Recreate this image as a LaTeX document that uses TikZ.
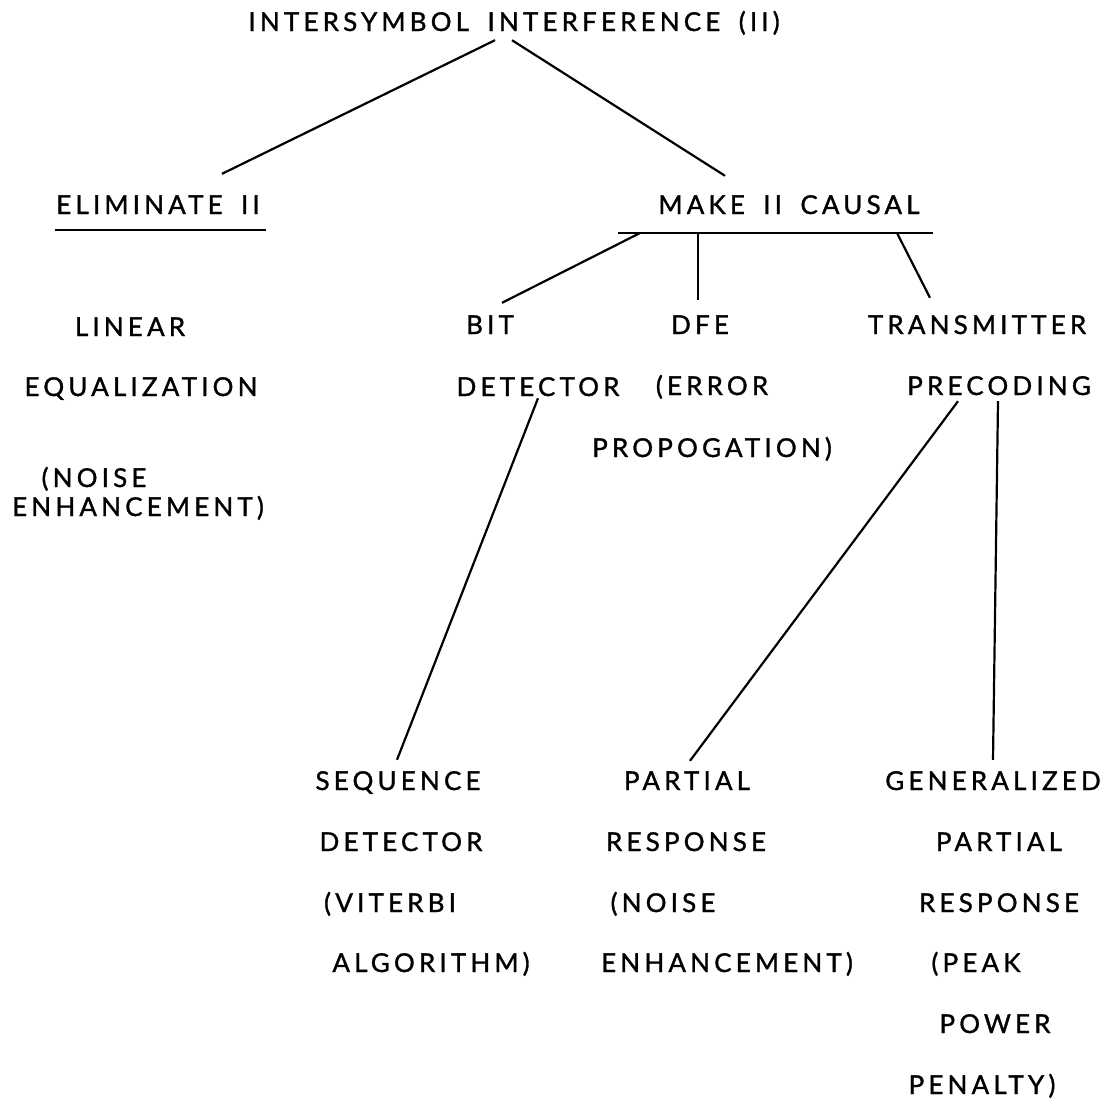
\documentclass[tikz,border=0pt]{standalone}
\usepackage{fontspec}
\newfontfamily\treefont{Lato}[LetterSpace=16,WordSpace=1.7,FakeBold=1.2]
\usetikzlibrary{positioning}

\begin{document}
\begin{tikzpicture}[
  x=1pt, y=-1pt,
  term/.style={
    anchor=base,
    inner sep=0pt,
    text height=19pt,
    text depth=0pt,
    font=\treefont\fontsize{26}{31}\selectfont
  },
  link/.style={line width=2.2pt}
]
\useasboundingbox (0,0) rectangle (1107,1104);

% --------------------
% Top levels
% --------------------
\node[term] (title) at (514,31) {INTERSYMBOL INTERFERENCE (II)};
\node[term] (elim) at (158,214) {ELIMINATE II};
\node[term] (make) at (789,214) {MAKE II CAUSAL};

\coordinate (elimL) at (55,230);
\coordinate (elimR) at (266,230);
\coordinate (barL) at (618,233);
\coordinate (barR) at (933,233);

% --------------------
% Eliminate branch
% --------------------
\node[term] (linA) at (130,336) {LINEAR};
\node[term] (linB) at (141,396) {EQUALIZATION};
\node[term] (linC) at (94,487) {(NOISE};
\node[term] (linD) at (138,516) {ENHANCEMENT)};

% --------------------
% Causal branch
% --------------------
\node[term] (bitA) at (490,334) {BIT};
\node[term] (bitB) at (538,396) {DETECTOR};
\node[term] (dfeA) at (700,334) {DFE};
\node[term] (dfeB) at (712,395) {(ERROR};
\node[term] (dfeC) at (712,457) {PROPOGATION)};
\node[term] (txA) at (977,334) {TRANSMITTER};
\node[term] (txB) at (999,395) {PRECODING};

% --------------------
% Bottom row
% --------------------
\node[term] (seqA) at (398,790) {SEQUENCE};
\node[term] (seqB) at (401,851) {DETECTOR};
\node[term] (seqC) at (390,912) {(VITERBI};
\node[term] (seqD) at (431,972) {ALGORITHM)};

\node[term] (prA) at (687,790) {PARTIAL};
\node[term] (prB) at (686,851) {RESPONSE};
\node[term] (prC) at (663,912) {(NOISE};
\node[term] (prD) at (727,972) {ENHANCEMENT)};

\node[term] (gpA) at (993,790) {GENERALIZED};
\node[term] (gpB) at (999,851) {PARTIAL};
\node[term] (gpC) at (999,912) {RESPONSE};
\node[term] (gpD) at (976,972) {(PEAK};
\node[term] (gpE) at (995,1033) {POWER};
\node[term] (gpF) at (982,1094) {PENALTY)};

% --------------------
% Connectors
% --------------------
\draw[link] ([xshift=-19pt,yshift=-9pt]title.south) -- ([xshift=64pt,yshift=21pt]elim.north);
\draw[link] ([xshift=-2pt,yshift=-9pt]title.south) -- ([xshift=-64pt,yshift=19pt]make.north);
\draw[link] (elimL) -- (elimR);
\draw[link] (barL) -- (barR);

\draw[link] ([xshift=22pt]barL) -- ([xshift=12pt,yshift=12pt]bitA.north);
\draw[link] ([xshift=80pt]barL) -- ([xshift=-2pt,yshift=15pt]dfeA.north);
\draw[link] ([xshift=-36pt]barR) -- ([xshift=-47pt,yshift=17pt]txA.north);

\draw[link] ([yshift=-2pt]bitB.south) -- ([xshift=-1pt,yshift=11pt]seqA.north);
\draw[link] ([xshift=-41pt,yshift=-6pt]txB.south) -- ([xshift=3pt,yshift=10pt]prA.north);
\draw[link] ([xshift=-1pt,yshift=-6pt]txB.south) -- ([yshift=11pt]gpA.north);

\end{tikzpicture}
\end{document}
